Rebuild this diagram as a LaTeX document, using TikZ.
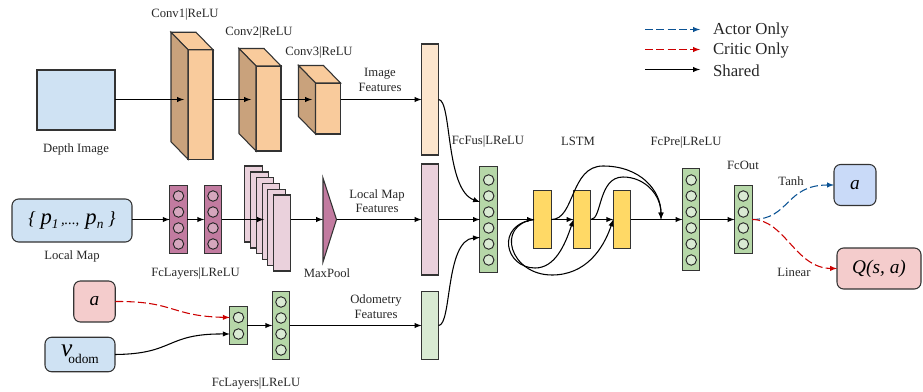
\documentclass[tikz,border=0pt]{standalone}
\usepackage{fontspec}
\setmainfont{Liberation Serif}
\definecolor{depthblue}{HTML}{CFE2F3}
\definecolor{convfront}{HTML}{F9CB9C}
\definecolor{convside}{HTML}{C9A27C}
\definecolor{imgfeat}{HTML}{FCE5CD}
\definecolor{mapfeat}{HTML}{EAD1DC}
\definecolor{odomfeat}{HTML}{D9EAD3}
\definecolor{fcgreen}{HTML}{B6D7A8}
\definecolor{fcpurple}{HTML}{C27BA0}
\definecolor{circpurple}{HTML}{D5A6BD}
\definecolor{lstmyellow}{HTML}{FFD966}
\definecolor{critred}{HTML}{F4CCCC}
\definecolor{actblue}{HTML}{C9DAF8}
\definecolor{actline}{HTML}{0B5394}
\definecolor{critline}{HTML}{CC0000}
\begin{document}
\begin{tikzpicture}
    \def\dx{0.75pt}
    \def\dy{-0.75pt}

    \useasboundingbox (0*\dx,0*\dy) rectangle (923*\dx,392*\dy);

    \tikzstyle{every node}=[font=\fontsize{9.5}{11}\selectfont,inner sep=0pt,outer sep=0pt]
    \tikzstyle{label}=[align=center,text=black!85]
    \tikzstyle{block}=[draw=black!80,line width=0.8pt,minimum width=17.5*0.75pt]
    \tikzstyle{input}=[draw=black!80,line width=0.8pt,rounded corners=5pt,fill=depthblue]
    \tikzstyle{convb}=[block,fill=convfront,minimum width=25*0.75pt]
    \tikzstyle{stackb}=[block,fill=mapfeat,minimum height=76*0.75pt]
    \tikzstyle{feat}=[block,minimum width=17*0.75pt]
    \tikzstyle{lstm}=[block,fill=lstmyellow,minimum height=57.5*0.75pt]
    \tikzstyle{fcg}=[block,fill=fcgreen]
    \tikzstyle{fcp}=[block,fill=fcpurple,minimum height=68*0.75pt]
    \tikzstyle{cg}=[draw=black!85,line width=0.7pt,circle,minimum size=10.5*0.75pt,fill=odomfeat]
    \tikzstyle{cp}=[draw=black!85,line width=0.7pt,circle,minimum size=10.5*0.75pt,fill=circpurple]
    \tikzstyle{big}=[font=\fontsize{14.5}{17}\selectfont\itshape]

    % inputs
    \node[block,fill=depthblue,minimum width=78*0.75pt,minimum height=60*0.75pt] (depth) at (76*\dx,100*\dy) {};
    \node[input,minimum width=120*0.75pt,minimum height=43*0.75pt] (map) at (72*\dx,220.5*\dy)
      {\itshape\fontsize{14}{17}\selectfont\{ \fontsize{17}{20}\selectfont p\raisebox{-3pt}{\fontsize{10}{10}\selectfont 1}\fontsize{11}{11}\selectfont\,,...,\, \fontsize{17}{20}\selectfont p\raisebox{-3pt}{\fontsize{10}{10}\selectfont n}\fontsize{14}{17}\selectfont\ \}};
    \node[input,fill=critred,minimum width=41.5*0.75pt,minimum height=41*0.75pt,big] (act) at (94.5*\dx,301.5*\dy) {a};
    \node[input,minimum width=70*0.75pt,minimum height=34.5*0.75pt] (odom) at (80*\dx,354.5*\dy)
      {\fontsize{19}{22}\selectfont\itshape v\kern-3pt\raisebox{-5pt}{\fontsize{10}{12}\selectfont\upshape odom}};

    % conv layers
    \node[convb,minimum height=109.5*0.75pt] (conv1) at (200.5*\dx,104.5*\dy) {};
    \node[convb,minimum height=85*0.75pt] (conv2) at (268.5*\dx,108.5*\dy) {};
    \node[convb,minimum height=51*0.75pt] (conv3) at (328*\dx,108.5*\dy) {};
    \foreach \c in {conv1,conv2,conv3} {
      \draw[line width=0.8pt,draw=black!80,fill=convfront] (\c.north west) -- ++(-17*\dx,-17.5*\dy) -- ++(25*\dx,0*\dy) -- (\c.north east) -- cycle;
      \draw[line width=0.8pt,draw=black!80,fill=convside] (\c.north west) -- ++(-17*\dx,-17.5*\dy) -- ([xshift=-17*\dx,yshift=-17.5*\dy]\c.south west) -- (\c.south west) -- cycle;
    }

    % feature bars
    \node[feat,fill=imgfeat,minimum height=111*0.75pt] (imgf) at (430*\dx,99.5*\dy) {};
    \node[feat,fill=mapfeat,minimum height=111*0.75pt] (mapf) at (430*\dx,219.5*\dy) {};
    \node[feat,fill=odomfeat,minimum height=67.5*0.75pt] (odof) at (430*\dx,325.5*\dy) {};

    % local map branch
    \node[fcp] (fca) at (178.5*\dx,219.5*\dy) {};
    \node[fcp] (fcb) at (213*\dx,219.5*\dy) {};
    \foreach \i/\y in {1/196,2/212,3/228,4/244} {
      \node[cp] (fca\i) at (178.5*\dx,\y*\dy) {};
      \node[cp] (fcb\i) at (213*\dx,\y*\dy) {};
    }
    \foreach \i/\x/\y in {1/253.7/204,2/259.4/210,3/265.1/215.5,4/270.8/221.5,5/276.5/227.5,6/282.2/233}
      \node[stackb] (stack\i) at (\x*\dx,\y*\dy) {};
    \draw[line width=0.8pt,draw=black!80,fill=fcpurple] (323*\dx,178*\dy) -- (336.5*\dx,219.5*\dy) -- (323*\dx,262*\dy) -- cycle;
    \coordinate (poolout) at (336.5*\dx,219.5*\dy);

    % odometry branch
    \node[fcg,minimum height=38.5*0.75pt] (fcc) at (238.5*\dx,325.5*\dy) {};
    \node[fcg,minimum height=67.5*0.75pt] (fcd) at (281*\dx,325.5*\dy) {};
    \foreach \i/\y in {1/317.5,2/334} \node[cg] (fcc\i) at (238.5*\dx,\y*\dy) {};
    \foreach \i/\y in {1/302,2/318,3/334,4/350} \node[cg] (fcd\i) at (281*\dx,\y*\dy) {};

    % fusion, lstm, output
    \node[fcg,minimum height=105.5*0.75pt] (fus) at (488.7*\dx,219.5*\dy) {};
    \foreach \i/\y in {1/180,2/196,3/212,4/228,5/244,6/260} \node[cg] (fus\i) at (488.7*\dx,\y*\dy) {};
    \node[lstm] (lstma) at (542.7*\dx,219.5*\dy) {};
    \node[lstm] (lstmb) at (582.2*\dx,219.5*\dy) {};
    \node[lstm] (lstmc) at (622*\dx,219.5*\dy) {};
    \node[fcg,minimum height=102*0.75pt] (pre) at (691.2*\dx,219.5*\dy) {};
    \foreach \i/\y in {1/180,2/196,3/212,4/228,5/244,6/260} \node[cg] (pre\i) at (691.2*\dx,\y*\dy) {};
    \node[fcg,minimum height=68*0.75pt] (out) at (743.3*\dx,219.5*\dy) {};
    \foreach \i/\y in {1/196,2/212,3/228,4/244} \node[cg] (out\i) at (743.3*\dx,\y*\dy) {};
    \node[input,fill=actblue,minimum width=42*0.75pt,minimum height=41*0.75pt,big] (acta) at (855*\dx,185*\dy) {a};
    \node[input,fill=critred,minimum width=84*0.75pt,minimum height=41*0.75pt,big] (qval) at (879*\dx,268.5*\dy) {Q(s, a)};

    % labels
    \node[label] (ldepth) at (76*\dx,149*\dy) {Depth Image};
    \node[label] (lmap) at (72*\dx,256*\dy) {Local Map};
    \node[label] (lconva) at (185*\dx,14*\dy) {Conv1|ReLU};
    \node[label] (lconvb) at (259*\dx,32*\dy) {Conv2|ReLU};
    \node[label] (lconvc) at (319*\dx,52*\dy) {Conv3|ReLU};
    \node[label] (limg) at (380*\dx,80*\dy) {Image\\Features};
    \node[label] (lfeat) at (377*\dx,201*\dy) {Local Map\\Features};
    \node[label] (lodo) at (376*\dx,306.5*\dy) {Odometry\\Features};
    \node[label] (lfca) at (195.5*\dx,273*\dy) {FcLayers|LReLU};
    \node[label] (lfcb) at (256*\dx,383*\dy) {FcLayers|LReLU};
    \node[label] (lpool) at (327*\dx,273*\dy) {MaxPool};
    \node[label] (lfus) at (488*\dx,141*\dy) {FcFus|LReLU};
    \node[label] (llstm) at (578*\dx,141*\dy) {LSTM};
    \node[label] (lpre) at (686*\dx,142*\dy) {FcPre|LReLU};
    \node[label] (lout) at (743*\dx,165*\dy) {FcOut};
    \node[label] (ltanh) at (791*\dx,181*\dy) {Tanh};
    \node[label] (llin) at (794*\dx,272*\dy) {Linear};

    % legend
    \tikzstyle{legend}=[font=\fontsize{12.6}{14}\selectfont,anchor=west,text=black!85]
    \node[legend] (lgactor) at (713*\dx,30.5*\dy) {Actor Only};
    \node[legend] (lgcritic) at (713*\dx,50.5*\dy) {Critic Only};
    \node[legend] (lgshared) at (713*\dx,70.5*\dy) {Shared};
    \coordinate (lga) at (645*\dx,29.5*\dy);
    \coordinate (lgb) at (645*\dx,49.5*\dy);
    \coordinate (lgc) at (645*\dx,69.5*\dy);
    \coordinate (lgae) at (700*\dx,29.5*\dy);
    \coordinate (lgbe) at (700*\dx,49.5*\dy);
    \coordinate (lgce) at (700*\dx,69.5*\dy);

    % arrow ends inside the drawn blocks
    \coordinate (conv1in) at (184*\dx,99.5*\dy);
    \coordinate (conv2in) at (251*\dx,99.5*\dy);
    \coordinate (conv3in) at (312*\dx,99.5*\dy);
    \coordinate (stackin) at (264*\dx,219.5*\dy);
    \coordinate (poolin) at (323*\dx,219.5*\dy);
    \coordinate (merge) at (661*\dx,219.5*\dy);
    \coordinate (fusup) at (480*\dx,202*\dy);
    \coordinate (fusdn) at (480*\dx,237.5*\dy);

    \pgfsetarrowsend{latex}
    \tikzstyle{fwd} = [draw=black, line width=0.8pt]
    \tikzstyle{fwa} = [draw=actline, line width=0.8pt, dash pattern=on 6pt off 2.5pt]
    \tikzstyle{fwc} = [draw=critline, line width=0.8pt, dash pattern=on 6pt off 2.5pt]

          \draw [fwd] (depth.east |- conv1in) -- (conv1in);
          \draw [fwd] (conv1.east |- conv2in) -- (conv2in);
          \draw [fwd] (conv2.east |- conv3in) -- (conv3in);
          \draw [fwd] (conv3.east |- imgf) -- (imgf);
          \draw [fwd] (map.east |- fca) -- (fca);
          \draw [fwd] (fca) -- (fcb);
          \draw [fwd] (fcb) -- (stackin);
          \draw [fwd] (stack6.east |- poolin) -- (poolin);
          \draw [fwd] (poolout) -- (mapf.west |- poolout);
          \draw [fwd] (fcc) -- (fcd);
          \draw [fwd] (fcd) -- (odof);
          \draw [fwa] (out.east) .. controls (790*\dx,219.5*\dy) and (785*\dx,185*\dy) .. (acta.west);
          \draw [fwc] (out.east) .. controls (785*\dx,219.5*\dy) and (795*\dx,268*\dy) .. (qval.west);
          \draw [fwc] (act.east) .. controls (175*\dx,301*\dy) and (170*\dx,316*\dy) .. (fcc.west |- fcc1);
          \draw [fwd] (odom.east) .. controls (175*\dx,354*\dy) and (165*\dx,333.5*\dy) .. (fcc.west |- fcc2);
          \draw [fwd] (imgf.east) .. controls (452*\dx,99.5*\dy) and (445*\dx,190*\dy) .. (fusup);
          \draw [fwd] (mapf) -- (fus);
          \draw [fwd] (odof.east) .. controls (452*\dx,325.5*\dy) and (445*\dx,240*\dy) .. (fusdn);
          \draw [fwd] (fus) -- (lstma);
          \draw [fwd] (lstma) -- (lstmb);
          \draw [fwd] (lstmb) -- (lstmc);
          \draw [fwd] (lstmc) -- (pre);
          \draw [fwd] (pre) -- (out);
          \draw [fwd] (lstma.east) .. controls (575*\dx,219.5*\dy) and (570*\dx,166*\dy) .. (603*\dx,166*\dy) .. controls (640*\dx,166*\dy) and (661*\dx,190*\dy) .. (merge);
          \draw [fwd] (lstmb.east) .. controls (602*\dx,219.5*\dy) and (598*\dx,177*\dy) .. (623*\dx,177*\dy) .. controls (645*\dx,177*\dy) and (661*\dx,195*\dy) .. (merge);
          \draw [fwd] (lstma.west) .. controls (495*\dx,225*\dy) and (505*\dx,268*\dy) .. (535*\dx,268*\dy) .. controls (555*\dx,268*\dy) and (565*\dx,245*\dy) .. (lstmb.west);
          \draw [fwd] (lstma.west) .. controls (495*\dx,225*\dy) and (510*\dx,275*\dy) .. (552*\dx,275*\dy) .. controls (585*\dx,275*\dy) and (603*\dx,250*\dy) .. (lstmc.west);
          \draw [fwa] (lga) -- (lgae);
          \draw [fwc] (lgb) -- (lgbe);
          \draw [fwd] (lgc) -- (lgce);

  \end{tikzpicture}
\end{document}
